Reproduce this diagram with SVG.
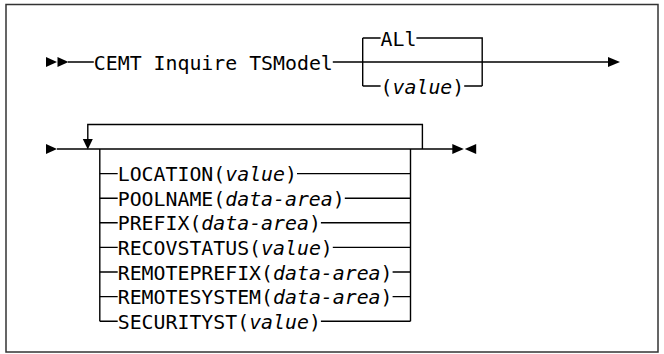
<svg xmlns="http://www.w3.org/2000/svg" width="664" height="354" viewBox="0 0 664 354">
<style>
.t{font-family:"DejaVu Sans Mono","Liberation Mono",monospace;font-size:19.5px;fill:#000}
.i{font-style:italic}
.ln{fill:none;stroke:#000;stroke-width:1.4}
.ah{fill:#000;stroke:none}
</style>
<rect x="6" y="4.5" width="652" height="347.5" fill="#fff" stroke="#333" stroke-width="1.5"/>
<g id="connectors">
<path class="ln" d="M68,62 H93.8 M332.8,62 H608"/>
<path class="ln" d="M362.7,38 V86 M362.7,38 H380.6 M416.4,38 H482.2 V86 M362.7,86 H380.6 M464.2,86 H482.2"/>
<path class="ln" d="M57,149 H453"/>
<path class="ln" d="M422.4,149 V124.5 H87.8 V140"/>
<path class="ln" d="M99.8,149 V321.2 M410.5,149 V321.2"/>
<path class="ln" d="M99.8,173.6 H117.7 M297,173.6 H410.5 M99.8,198.2 H117.7 M344.8,198.2 H410.5 M99.8,222.8 H117.7 M320.9,222.8 H410.5 M99.8,247.4 H117.7 M332.8,247.4 H410.5 M99.8,272 H117.7 M392.6,272 H410.5 M99.8,296.6 H117.7 M392.6,296.6 H410.5 M99.8,321.2 H117.7 M320.9,321.2 H410.5"/>
<polygon class="ah" points="608,57 620,62 608,67"/>
<polygon class="ah" points="82.8,139 92.8,139 87.8,149.5"/>
</g>
<g id="start">
<polygon class="ah" points="46,57 57,62 46,67"/>
<polygon class="ah" points="57.5,57 68.5,62 57.5,67"/>
</g>
<g id="cmd"><text class="t" x="93.8" y="69.5" textLength="239" lengthAdjust="spacingAndGlyphs">CEMT Inquire TSModel</text></g>
<g id="opt-all"><text class="t" x="380.6" y="45.5" textLength="35.85" lengthAdjust="spacingAndGlyphs">ALl</text></g>
<g id="opt-value"><text class="t" x="380.6" y="93.5" textLength="83.65" lengthAdjust="spacingAndGlyphs">(<tspan class="i">value</tspan>)</text></g>
<g id="line2-start"><polygon class="ah" points="46,144 57,149 46,154"/></g>
<g id="row-location"><text class="t" x="117.7" y="181.1" textLength="179.25" lengthAdjust="spacingAndGlyphs">LOCATION(<tspan class="i">value</tspan>)</text></g>
<g id="row-poolname"><text class="t" x="117.7" y="205.7" textLength="227.05" lengthAdjust="spacingAndGlyphs">POOLNAME(<tspan class="i">data-area</tspan>)</text></g>
<g id="row-prefix"><text class="t" x="117.7" y="230.3" textLength="203.15" lengthAdjust="spacingAndGlyphs">PREFIX(<tspan class="i">data-area</tspan>)</text></g>
<g id="row-recovstatus"><text class="t" x="117.7" y="254.9" textLength="215.1" lengthAdjust="spacingAndGlyphs">RECOVSTATUS(<tspan class="i">value</tspan>)</text></g>
<g id="row-remoteprefix"><text class="t" x="117.7" y="279.5" textLength="274.85" lengthAdjust="spacingAndGlyphs">REMOTEPREFIX(<tspan class="i">data-area</tspan>)</text></g>
<g id="row-remotesystem"><text class="t" x="117.7" y="304.1" textLength="274.85" lengthAdjust="spacingAndGlyphs">REMOTESYSTEM(<tspan class="i">data-area</tspan>)</text></g>
<g id="row-securityst"><text class="t" x="117.7" y="328.7" textLength="203.15" lengthAdjust="spacingAndGlyphs">SECURITYST(<tspan class="i">value</tspan>)</text></g>
<g id="end">
<polygon class="ah" points="452.3,144 463.8,149 452.3,154"/>
<polygon class="ah" points="476.2,144 464.8,149 476.2,154"/>
</g>
</svg>
